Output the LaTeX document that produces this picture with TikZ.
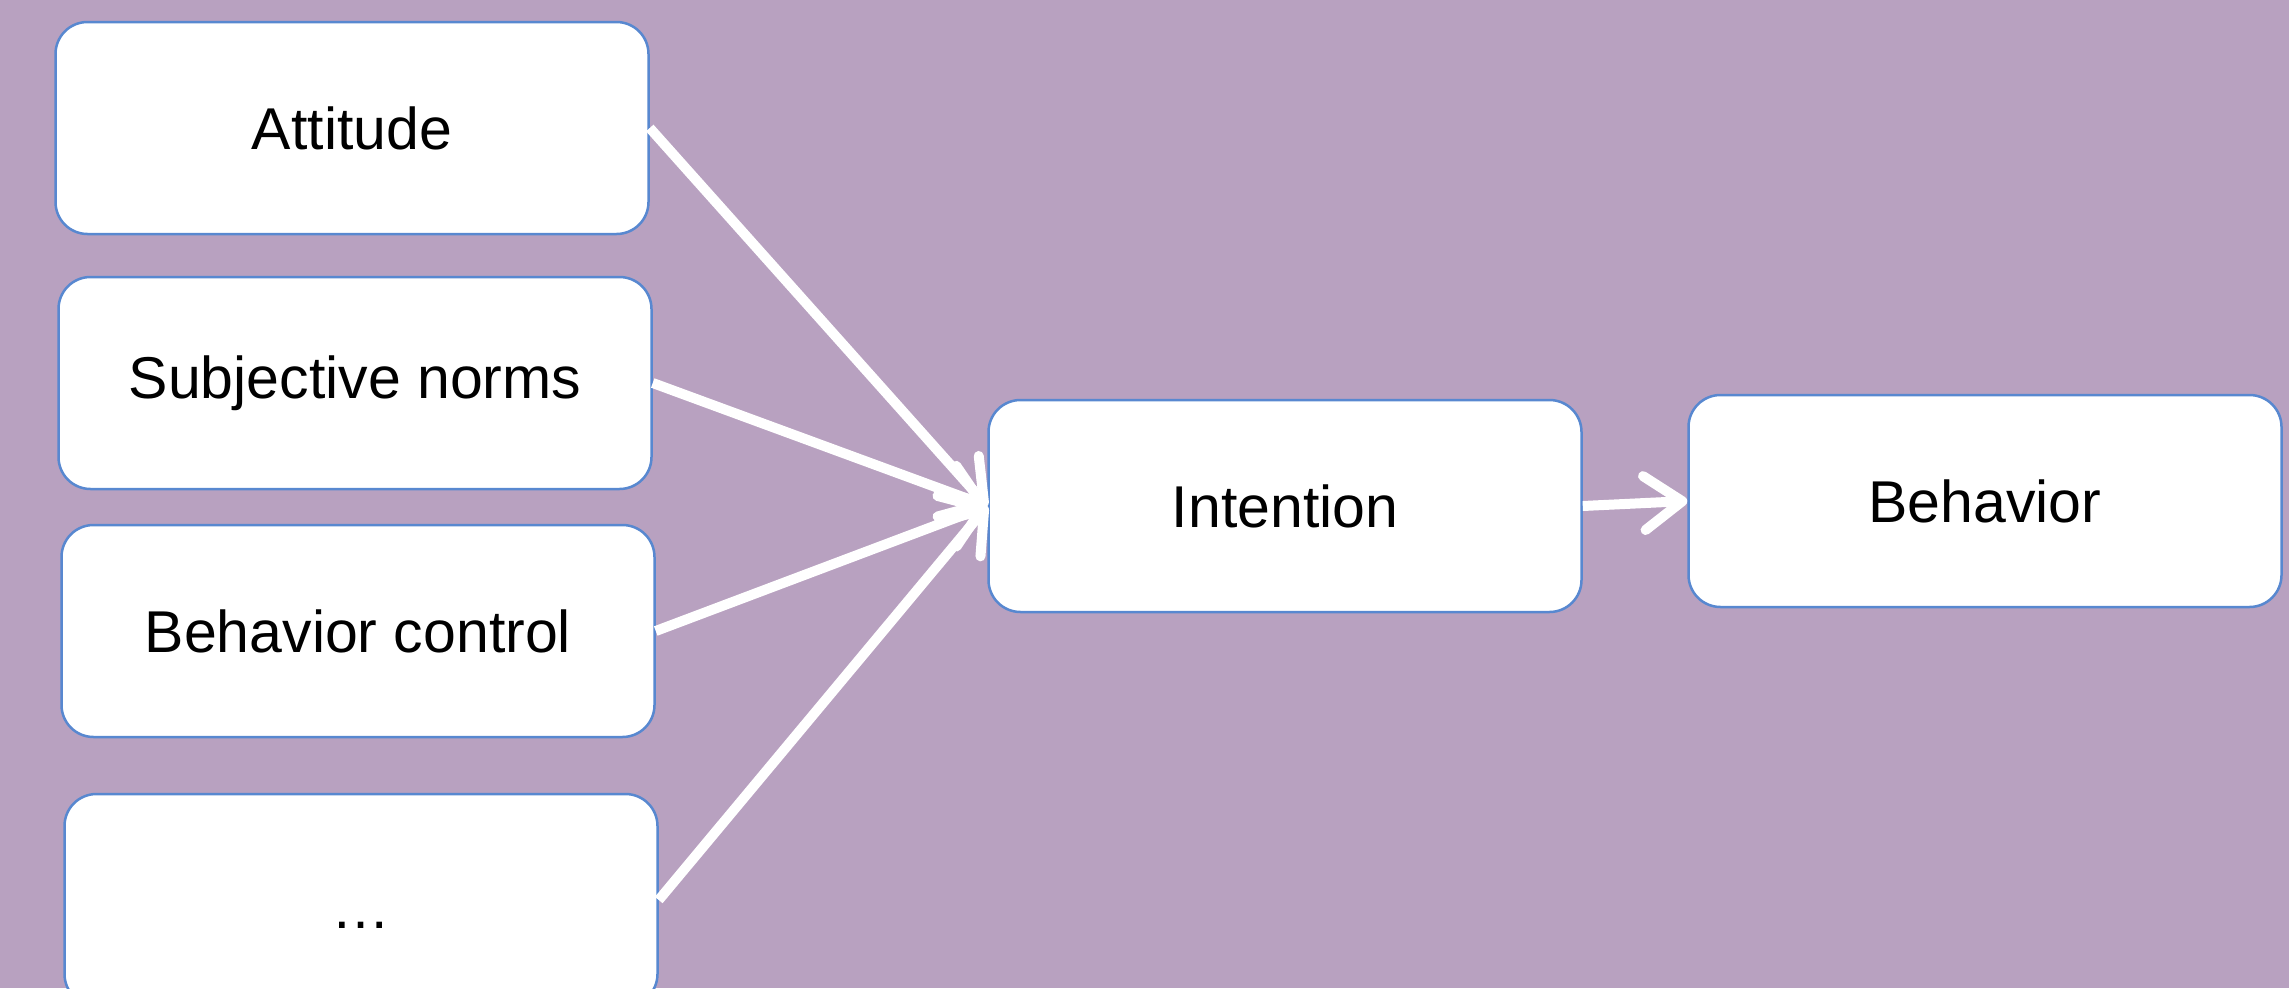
\documentclass[tikz,border=0pt]{standalone}
\usepackage{fontspec}
\setmainfont{Liberation Sans}
\usetikzlibrary{arrows.meta}
\definecolor{bgpurple}{RGB}{184,161,192}
\definecolor{boxblue}{RGB}{88,136,208}
\tikzset{
  box/.style={draw=boxblue, line width=2.5pt, fill=white, rounded corners=32pt,
    minimum width=593pt, minimum height=212pt, inner sep=0pt,
    font=\fontsize{59}{70}\selectfont},
  link/.style={draw=white, line width=10pt,
    -{Straight Barb[round,length=38pt,width=54pt]}}
}
\begin{document}
\begin{tikzpicture}[x=1pt,y=-1pt]
\fill[bgpurple] (0,0) rectangle (2289,988);
\useasboundingbox (0,0) rectangle (2289,988);
\clip (0,0) rectangle (2289,988);
\node[box] (att) at (352,128) {Attitude};
\node[box] (sn) at (355,383) {Subjective norms};
\node[box] (bc) at (358,631) {Behavior control};
\node[box] (etc) at (361,900) {\smash{\raisebox{-28pt}{\dots}}};
\node[box] (int) at (1285,506) {Intention};
\node[box] (beh) at (1985,501) {Behavior};
\draw[link] (att.east) -- (int.west);
\draw[link] (sn.east) -- (int.west);
\draw[link] (bc.east) -- (int.west);
\draw[link] (etc.east) -- (int.west);
\draw[link] (int.east) -- (beh.west);
\end{tikzpicture}
\end{document}
